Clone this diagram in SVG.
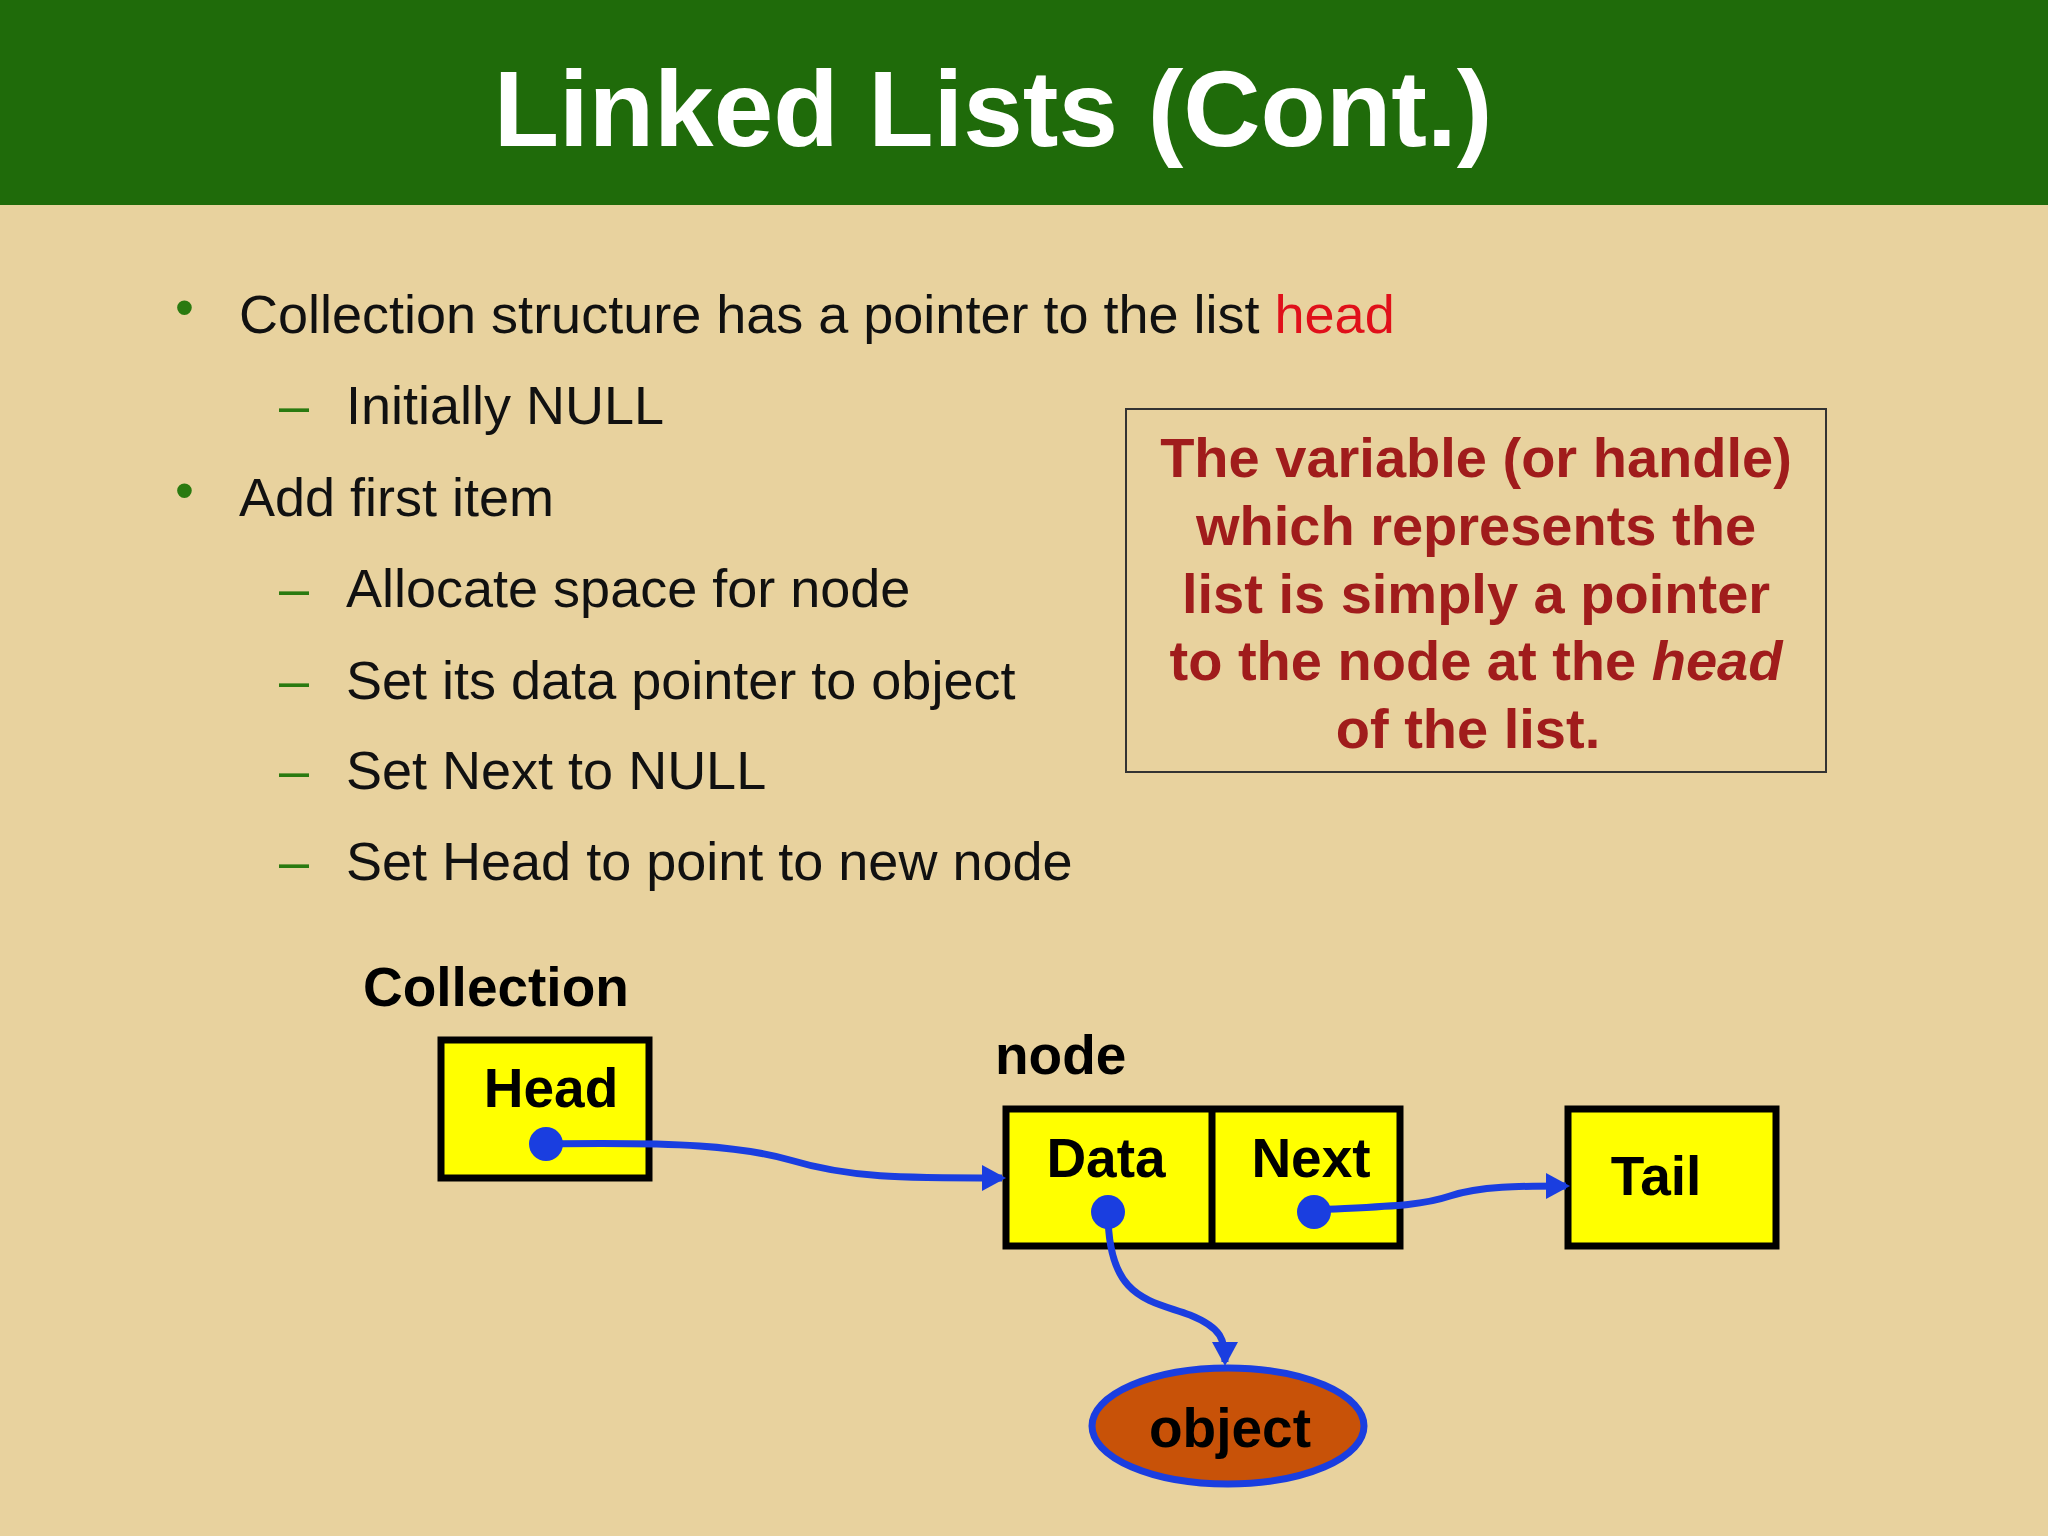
<svg xmlns="http://www.w3.org/2000/svg" width="2048" height="1536" viewBox="0 0 2048 1536">
<style>
text{font-family:"Liberation Sans",Arial,sans-serif}
.b{font-size:54px;fill:#111}
.g{fill:#2a7a10}
.bx{fill:#ffff00;stroke:#000;stroke-width:7}
.lb{font-size:55px;font-weight:bold;fill:#000}
.note{font-size:56px;font-weight:bold;fill:#a01c1c;text-anchor:middle}
.c{fill:none;stroke:#1a3ee0;stroke-width:7}
</style>
<defs><marker id="ah" markerWidth="24" markerHeight="26" refX="20" refY="13" orient="auto" markerUnits="userSpaceOnUse"><path d="M0,0L24,13L0,26z" fill="#1a3ee0"/></marker></defs>
<rect width="2048" height="1536" fill="#e8d29e"/>
<rect width="2048" height="205" fill="#1f6b0a"/>
<text x="993" y="146" font-size="107" font-weight="bold" fill="#fff" text-anchor="middle">Linked Lists (Cont.)</text>
<g>
<text x="175" y="326" class="b g">•</text>
<text x="239" y="333" class="b">Collection structure has a pointer to the list <tspan fill="#e0101a">head</tspan></text>
<text x="279" y="424" class="b g">–</text><text x="346" y="424" class="b">Initially NULL</text>
<text x="175" y="509" class="b g">•</text><text x="239" y="516" class="b">Add first item</text>
<text x="279" y="607" class="b g">–</text><text x="346" y="607" class="b">Allocate space for node</text>
<text x="279" y="699" class="b g">–</text><text x="346" y="699" class="b">Set its data pointer to object</text>
<text x="279" y="789" class="b g">–</text><text x="346" y="789" class="b">Set Next to NULL</text>
<text x="279" y="880" class="b g">–</text><text x="346" y="880" class="b">Set Head to point to new node</text>
</g>
<g id="note">
<rect x="1126" y="409" width="700" height="363" fill="none" stroke="#333" stroke-width="2"/>
<text x="1476" y="477" class="note">The variable (or handle)</text>
<text x="1476" y="545" class="note">which represents the</text>
<text x="1476" y="613" class="note">list is simply a pointer</text>
<text x="1476" y="680" class="note">to the node at the <tspan font-style="italic">head</tspan></text>
<text x="1468" y="748" class="note">of the list.</text>
</g>
<g id="collection">
<text x="363" y="1006" class="lb">Collection</text>
<rect x="441" y="1040" width="208" height="138" class="bx"/>
<text x="551" y="1107" class="lb" text-anchor="middle">Head</text>
</g>
<g id="node">
<text x="995" y="1074" class="lb">node</text>
<rect x="1006" y="1109" width="394" height="137" class="bx"/>
<line x1="1212" y1="1109" x2="1212" y2="1246" stroke="#000" stroke-width="7"/>
<text x="1106" y="1177" class="lb" text-anchor="middle">Data</text>
<text x="1311" y="1177" class="lb" text-anchor="middle">Next</text>
</g>
<g id="tail">
<rect x="1568" y="1109" width="208" height="137" class="bx"/>
<text x="1656" y="1195" class="lb" text-anchor="middle">Tail</text>
</g>
<g id="object">
<ellipse cx="1228" cy="1426" rx="136" ry="58" fill="#c85208" stroke="#1a3ee0" stroke-width="7"/>
<text x="1230" y="1447" class="lb" text-anchor="middle">object</text>
</g>
<g id="connectors">
<path class="c" marker-end="url(#ah)" d="M546,1144 C680,1142 740,1146 790,1160 C850,1178 900,1178 1002,1178"/>
<path class="c" marker-end="url(#ah)" d="M1314,1210 C1390,1206 1420,1206 1450,1196 C1480,1186 1520,1186 1566,1186"/>
<path class="c" marker-end="url(#ah)" d="M1108,1212 C1108,1300 1150,1300 1190,1315 C1222,1328 1225,1340 1225,1362"/>
<circle cx="546" cy="1144" r="17" fill="#1a3ee0"/>
<circle cx="1108" cy="1212" r="17" fill="#1a3ee0"/>
<circle cx="1314" cy="1212" r="17" fill="#1a3ee0"/>
</g>
</svg>
